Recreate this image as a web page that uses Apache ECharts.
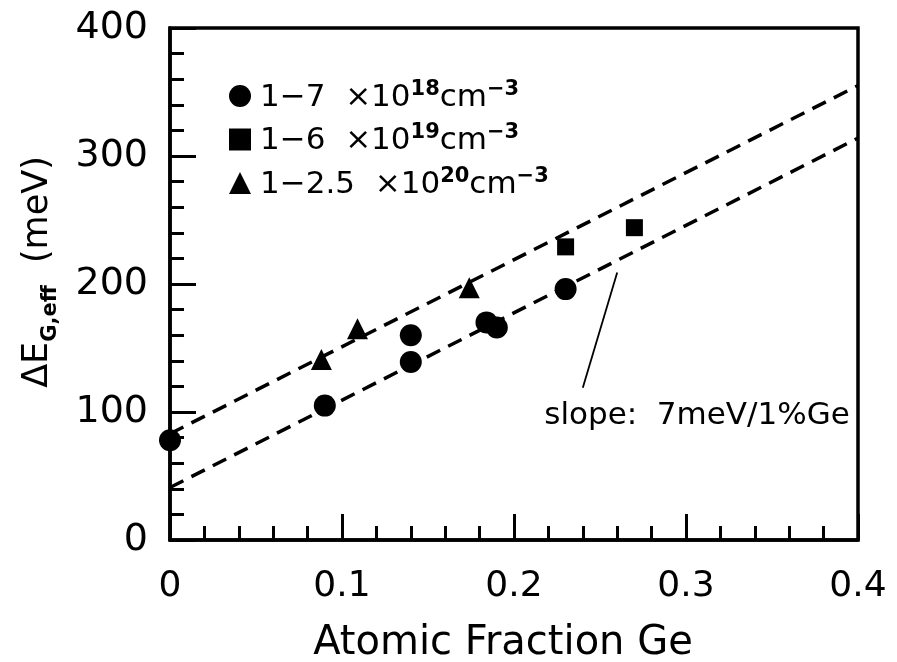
<!DOCTYPE html>
<html><head><meta charset="utf-8">
<script src="https://cdn.jsdelivr.net/npm/echarts@6/dist/echarts.min.js"></script>
<style>html,body{margin:0;padding:0;background:#fff}#c{width:897px;height:662px}</style>
</head><body><div id="c"></div>
<script>
// Data
const circles = [[0,78],[0.09,105],[0.14,139],[0.14,160],[0.184,170],[0.19,166],[0.23,196]];
const squares = [[0.23,229],[0.27,244]];
const triangles = [[0.088,141],[0.109,165],[0.174,197]];
const upperFit = [[0,83],[0.4,355]];
const lowerFit = [[0,41],[0.4,314]];
const pointerLine = [[0.26,209],[0.24,119]];
const slopeTextAt = [0.3064,97];
const slopeText = 'slope:  7meV/1%Ge';
const xTicks = [0,0.1,0.2,0.3,0.4];
const yTicks = [0,100,200,300,400];
const legendNames = ['c','s','t'];
const legendLabels = {
  c: '{n|1−7  ×10}{sup|18}{n|cm}{sup|−3}',
  s: '{n|1−6  ×10}{sup|19}{n|cm}{sup|−3}',
  t: '{n|1−2.5  ×10}{sup|20}{n|cm}{sup|−3}'
};

const F = 'DejaVu Sans';
const chart = echarts.init(document.getElementById('c'));
chart.setOption({
  animation: false,
  backgroundColor: '#fff',
  grid: {left: 170, right: 39, top: 28, bottom: 122, containLabel: false, outerBoundsMode: 'none',
         show: true, borderColor: '#000', borderWidth: 3.5, backgroundColor: 'transparent'},
  xAxis: {
    type: 'value', min: xTicks[0], max: xTicks[xTicks.length-1], interval: 0.1,
    name: 'Atomic Fraction Ge', nameLocation: 'middle', nameGap: 84,
    nameTextStyle: {fontFamily: F, fontSize: 40, color: '#000', padding: [0, 22, 0, 0]},
    axisLine: {lineStyle: {color: '#000', width: 3.5}},
    axisTick: {inside: true, length: 26, lineStyle: {color: '#000', width: 3}},
    minorTick: {show: true, splitNumber: 5, length: 14, lineStyle: {color: '#000', width: 3}},
    splitLine: {show: false},
    axisLabel: {margin: 29, fontFamily: F, fontSize: 36, color: '#000', formatter: v => v === 0 ? '0' : v.toFixed(1)}
  },
  yAxis: {
    type: 'value', min: yTicks[0], max: yTicks[yTicks.length-1], interval: 100,
    name: '{n|ΔE}{sub|G,eff}{n|  (meV)}', nameLocation: 'middle', nameGap: 109, nameRotate: 90,
    nameTextStyle: {padding: [0, 0, 0, 24], rich: {
      n: {fontFamily: F, fontSize: 35, color: '#000', lineHeight: 46, verticalAlign: 'middle'},
      sub: {fontFamily: F, fontSize: 21, fontWeight: 'bold', color: '#000', lineHeight: 46, verticalAlign: 'bottom'}
    }},
    axisLine: {lineStyle: {color: '#000', width: 3.5}},
    axisTick: {inside: true, length: 26, lineStyle: {color: '#000', width: 3}},
    minorTick: {show: true, splitNumber: 5, length: 14, lineStyle: {color: '#000', width: 3}},
    splitLine: {show: false},
    axisLabel: {margin: 22, fontFamily: F, fontSize: 38, color: '#000'}
  },
  legend: {
    orient: 'vertical', left: 224, top: 74, itemGap: 9.5, itemWidth: 22, itemHeight: 22,
    data: [{name: 'c', icon: 'circle'}, {name: 's', icon: 'rect'}, {name: 't', icon: 'triangle'}],
    formatter: n => legendLabels[n],
    itemStyle: {opacity: 1},
    textStyle: {padding: [0,0,0,4], rich: {
      n: {fontFamily: F, fontSize: 31, color: '#000', lineHeight: 34, verticalAlign: 'bottom'},
      sup: {fontFamily: F, fontSize: 21, fontWeight: 'bold', color: '#000', lineHeight: 34, verticalAlign: 'top'}
    }}
  },
  series: [
    {type: 'line', data: upperFit, symbol: 'none', silent: true, lineStyle: {color: '#000', width: 3.5, type: [15, 9]}},
    {type: 'line', data: lowerFit, symbol: 'none', silent: true, lineStyle: {color: '#000', width: 3.5, type: [15, 9]}},
    {type: 'line', data: pointerLine, symbol: 'none', silent: true, lineStyle: {color: '#000', width: 1.8}},
    {name: 'c', type: 'scatter', data: circles, symbol: 'circle', symbolSize: 22, itemStyle: {color: '#000', opacity: 1}, z: 5},
    {name: 's', type: 'scatter', data: squares, symbol: 'rect', symbolSize: 17, itemStyle: {color: '#000', opacity: 1}, z: 5},
    {name: 't', type: 'scatter', data: triangles, symbol: 'triangle', symbolSize: 21, itemStyle: {color: '#000', opacity: 1}, z: 5},
    {type: 'scatter', data: [slopeTextAt], symbolSize: 0, silent: true, itemStyle: {opacity: 1},
     label: {show: true, position: 'inside', formatter: slopeText, fontFamily: F, fontSize: 31, color: '#000'}}
  ]
});
</script></body></html>
